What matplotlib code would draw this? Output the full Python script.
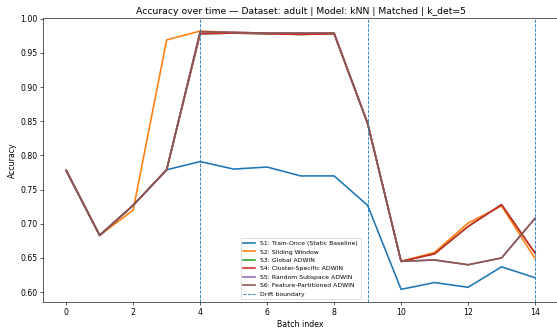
import numpy as np
import matplotlib
matplotlib.use("Agg")
import matplotlib.pyplot as plt

batches = list(range(15))
drift_points = [4, 9, 14]

s1 = [0.778, 0.683, 0.727, 0.779, 0.791, 0.780, 0.783, 0.770, 0.770, 0.727,
      0.604, 0.614, 0.607, 0.637, 0.621]
s2 = [0.778, 0.683, 0.720, 0.969, 0.982, 0.980, 0.979, 0.978, 0.979, 0.847,
      0.645, 0.658, 0.701, 0.726, 0.649]
s3 = [0.778, 0.683, 0.727, 0.779, 0.978, 0.979, 0.978, 0.977, 0.978, 0.847,
      0.645, 0.656, 0.696, 0.728, 0.657]
s4 = [0.778, 0.683, 0.727, 0.779, 0.978, 0.979, 0.978, 0.977, 0.978, 0.847,
      0.645, 0.656, 0.696, 0.728, 0.657]
s5 = [0.778, 0.683, 0.727, 0.779, 0.981, 0.980, 0.979, 0.979, 0.979, 0.847,
      0.645, 0.647, 0.640, 0.650, 0.708]
s6 = [0.778, 0.683, 0.727, 0.779, 0.981, 0.980, 0.979, 0.979, 0.979, 0.847,
      0.645, 0.647, 0.640, 0.650, 0.708]

series = [
    ("S1: Train-Once (Static Baseline)", s1),
    ("S2: Sliding Window", s2),
    ("S3: Global ADWIN", s3),
    ("S4: Cluster-Specific ADWIN", s4),
    ("S5: Random Subspace ADWIN", s5),
    ("S6: Feature-Partitioned ADWIN", s6),
]

fig, ax = plt.subplots(figsize=(10, 5.925), dpi=55.7)
# the original figure is cut off on the right, past the axes edge
fig.subplots_adjust(left=0.0767, right=1.0027, top=0.945, bottom=0.084)

for label, vals in series:
    ax.plot(batches, vals, linewidth=2.1, label=label)

for i, d in enumerate(drift_points):
    ax.axvline(d, linestyle="--", linewidth=1.1, color="tab:blue",
               label="Drift boundary" if i == 0 else None)

ax.set_title("Accuracy over time — Dataset: adult | Model: kNN | Matched | k_det=5")
ax.set_xlabel("Batch index")
ax.set_ylabel("Accuracy")
ax.legend(loc="lower center", fontsize=8)

plt.savefig("out.png", dpi=55.7)
